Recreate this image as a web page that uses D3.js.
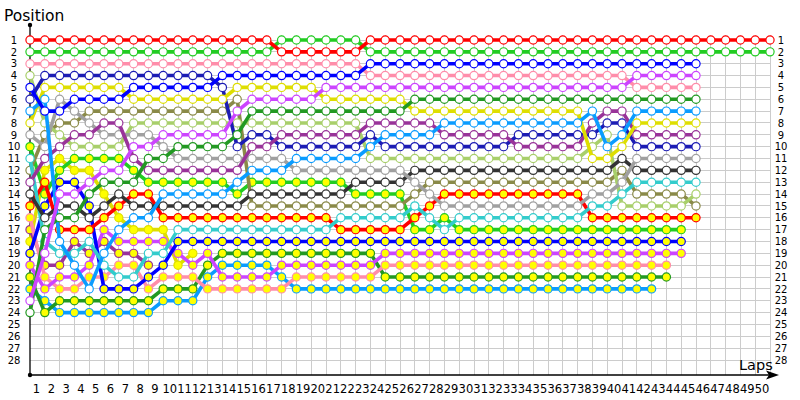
<!DOCTYPE html>
<html><head><meta charset="utf-8">
<script src="https://cdn.jsdelivr.net/npm/d3@7"></script>
<style>
body{margin:0;background:#fff;}
text{font-family:"DejaVu Sans",sans-serif;}
</style></head><body>
<svg id="chart" width="800" height="400"></svg>
<script>
// ---- data ----
const laps = d3.range(0, 51);
const lapLabels = d3.range(1, 51);
const positionLabels = d3.range(1, 29);

// position per lap, starting at lap 0 (grid)
const posRed    = [1,1,1,1,1,1,1,1,1,1, 1,1,1,1,1,1,1,2,2,2, 2,2,2,1,1,1,1,1,1,1, 1,1,1,1,1,1,1,1,1,1, 1,1,1,1,1,1,1,1,1,1, 1];
const posGreen  = [2,2,2,2,2,2,2,2,2,2, 2,2,2,2,2,2,2,1,1,1, 1,1,1,2,2,2,2,2,2,2, 2,2,2,2,2,2,2,2,2,2, 2,2,2,2,2,2,2,2,2,2, 2];
const posBlue   = [5,7,7,6,6,6,6,5,5,5, 5,5,5,4,4,4,4,4,4,4, 4,4,4,3,3,3,3,3,3,3, 3,3,3,3,3,3,3,3,3,3, 3,3,3,3,3,3];
const posViolet = [23,19,14,14,13,12,12,10,10,9, 9,9,9,9,7,6,6,6,6,6, 5,5,5,5,5,5,5,5,5,5, 5,5,5,5,5,5,5,5,5,5, 5,4,4,4,4,4];
const posPink   = [3,3,3,3,3,3,3,3,3,3, 3,3,3,3,3,3,3,3,3,3, 3,3,3,4,4,4,4,4,4,4, 4,4,4,4,4,4,4,4,4,4, 4,5,5,5,5,5];
const posDkGreen= [24,17,16,16,14,13,13,13,11,11, 10,10,10,10,9,7,7,7,7,7, 7,7,7,7,7,7,6,6,6,6, 6,6,6,6,6,6,6,6,6,6, 6,6,6,6,6,6];
const posSky    = [7,6,18,20,22,19,17,16,16,14, 14,14,14,14,13,12,12,12,11,11, 11,11,11,10,9,9,9,9,8,8, 8,8,8,8,8,8,8,8,7,10, 9,7,7,7,7,7];
const posYellow = [8,5,5,5,5,5,5,6,6,6, 6,6,6,6,5,5,5,5,5,5, 6,6,6,6,6,6,7,7,7,7, 7,7,7,7,7,7,7,7,11,11, 10,8,8,8,8,8];
const posPurple = [13,11,10,9,9,8,8,11,12,12, 12,12,12,12,12,10,10,9,9,9, 9,9,9,8,8,8,8,8,9,9, 9,9,9,10,10,10,10,10,8,7, 7,9,9,9,9,9];
const posNavy   = [6,4,4,4,4,4,4,4,4,4, 4,4,4,5,10,9,9,10,10,10, 10,10,10,9,10,10,10,10,10,10, 10,10,10,9,9,9,9,9,9,8, 8,10,10,10,10,10];
const posGray   = [9,10,6,7,8,9,9,9,9,10, 11,11,11,11,11,11,11,11,12,12, 12,12,12,12,12,12,13,14,15,15, 15,15,15,15,15,15,15,15,14,14, 13,11,11,11,11,11];
const posBlack  = [14,16,15,15,16,15,14,15,15,15, 15,15,15,15,15,14,14,14,14,14, 14,14,13,13,13,13,12,12,12,12, 12,12,12,12,12,12,12,12,12,12, 11,12,12,12,12,12];
const posTeal   = [11,18,19,19,18,20,21,21,19,19, 17,17,17,17,17,17,17,17,17,17, 17,16,16,16,16,16,15,16,17,16, 16,16,16,16,16,16,16,16,15,15, 14,13,13,13,13,13];
const posLime   = [4,8,9,10,10,10,10,8,8,8, 8,8,8,8,8,8,8,8,8,8, 8,8,8,11,11,11,11,11,11,11, 11,11,11,11,11,11,11,11,10,9, 15,15,15,15,15,14];
const posOlive  = [12,9,8,8,7,7,7,7,7,7, 7,7,7,7,6,15,15,15,15,15, 15,15,15,15,15,15,14,13,13,13, 13,13,13,13,13,13,13,13,13,13, 12,14,14,14,14,15];
const posRedB   = [15,13,17,17,17,16,15,14,14,16, 16,16,16,16,16,16,16,16,16,16, 16,17,17,17,17,17,16,15,14,14, 14,14,14,14,14,14,14,14,16,16, 16,16,16,16,16,16];
const posGreenB = [10,14,12,11,11,11,11,12,13,13, 13,13,13,13,14,13,13,13,13,13, 13,13,14,14,14,14,17,17,16,17, 17,17,17,17,17,17,17,17,17,17, 17,17,17,17,17];
const posBlueB  = [19,15,13,13,15,22,22,22,21,20, 18,18,18,18,18,18,18,18,18,18, 18,18,18,18,18,18,18,18,18,18, 18,18,18,18,18,18,18,18,18,18, 18,18,18,18,18];
const posVioletB= [20,22,21,21,20,17,18,18,18,18, 19,20,19,21,21,21,21,20,20,20, 20,20,20,20,19,19,19,19,19,19, 19,19,19,19,19,19,19,19,19,19, 19,19,19,19,19];
const posPinkB  = [16,21,22,22,21,21,20,20,22,21, 21,21,22,22,22,22,22,22,21,21, 21,21,21,21,20,20,20,20,20,20, 20,20,20,20,20,20,20,20,20,20, 20,20,20,20];
const posDkGreenB=[21,24,23,23,23,23,23,23,23,22, 22,22,20,19,19,19,19,19,19,19, 19,19,19,19,21,21,21,21,21,21, 21,21,21,21,21,21,21,21,21,21, 21,21,21,21];
const posSkyB   = [22,23,24,24,24,24,24,24,24,23, 23,23,21,20,20,20,20,21,22,22, 22,22,22,22,22,22,22,22,22,22, 22,22,22,22,22,22,22,22,22,22, 22,22,22];
const posPurpleB= [17,20,20,18,19,18,19,19,20];
const posYellowB= [18,12,11,12,12,14,16,17,17,17,20,19];

const seriesNames = ["red","green","blue","violet","pink","dkgreen","sky","yellow","purple","navy",
  "gray","black","teal","lime","olive","redB","greenB","blueB","violetB","pinkB","dkgreenB","skyB","purpleB","yellowB"];
const seriesValues = [posRed,posGreen,posBlue,posViolet,posPink,posDkGreen,posSky,posYellow,posPurple,posNavy,
  posGray,posBlack,posTeal,posLime,posOlive,posRedB,posGreenB,posBlueB,posVioletB,posPinkB,posDkGreenB,posSkyB,posPurpleB,posYellowB];

// ---- styles ----
const colorOf = {
  red:"#ff0000", green:"#22cc22", blue:"#0000ff", violet:"#cc44ff", pink:"#ff8daa",
  dkgreen:"#229922", sky:"#0a9cff", yellow:"#dede00", purple:"#993399", navy:"#1c1cb4",
  gray:"#a0a0a0", black:"#333333", teal:"#33cccc", lime:"#a8cf6a", olive:"#8a8a48",
  redB:"#ff0000", greenB:"#22cc22", blueB:"#0000ff", violetB:"#cc44ff", pinkB:"#ff8daa",
  dkgreenB:"#229922", skyB:"#0a9cff", purpleB:"#993399", yellowB:"#dede00"
};
const yellowFilled = new Set(["redB","greenB","blueB","violetB","pinkB","dkgreenB","skyB","purpleB","yellowB"]);

// ---- chart ----
const svg = d3.select("#chart");
const x = d3.scaleLinear().domain([0, 50]).range([30, 770]);
const y = d3.scaleLinear().domain([1, 28]).range([40, 360]);
const xLabel = d3.scaleLinear().domain([1, 50]).range([36, 761.5]);

const grid = svg.append("g").attr("stroke", "#cccccc").attr("stroke-width", 1).attr("shape-rendering","crispEdges");
grid.selectAll("line.v").data(laps.slice(1)).join("line").attr("class","v")
  .attr("x1", d => x(d)).attr("x2", d => x(d)).attr("y1", y(0.55)).attr("y2", 375);
grid.selectAll("line.h").data(positionLabels).join("line").attr("class","h")
  .attr("x1", x(0)).attr("x2", x(50)).attr("y1", d => y(d)).attr("y2", d => y(d));

// axes lines
const axisG = svg.append("g");
axisG.append("line").attr("x1",30).attr("x2",30).attr("y1",25).attr("y2",375).attr("stroke","#000").attr("stroke-width",1.3);
axisG.append("line").attr("x1",30).attr("x2",772).attr("y1",375).attr("y2",375).attr("stroke","#000").attr("stroke-width",1.3);
axisG.append("path").attr("d","M779,375 L766,370.5 L769,375 L766,379.5 Z").attr("fill","#000");
axisG.append("circle").attr("cx",30).attr("cy",25).attr("r",2.2).attr("fill","#000");
axisG.append("circle").attr("cx",30).attr("cy",375).attr("r",2.2).attr("fill","#000");

// tick labels via d3 axes
const gx = svg.append("g").attr("transform","translate(0,375)")
  .call(d3.axisBottom(xLabel).tickValues(lapLabels).tickSize(0).tickPadding(10).tickFormat(d3.format("d")));
gx.select(".domain").remove();
gx.selectAll("text").attr("font-size","11.5px").attr("font-family","DejaVu Sans").attr("fill","#000");

const gl = svg.append("g").attr("transform","translate(14,0)")
  .call(d3.axisLeft(y).tickValues(positionLabels).tickSize(0).tickPadding(0).tickFormat(d3.format("d")));
gl.select(".domain").remove();
gl.selectAll("text").attr("text-anchor","middle").attr("x",0).attr("font-size","10px").attr("font-family","DejaVu Sans").attr("fill","#000");

const gr = svg.append("g").attr("transform","translate(781,0)")
  .call(d3.axisRight(y).tickValues(positionLabels).tickSize(0).tickPadding(0).tickFormat(d3.format("d")));
gr.select(".domain").remove();
gr.selectAll("text").attr("text-anchor","middle").attr("x",0).attr("font-size","10px").attr("font-family","DejaVu Sans").attr("fill","#000");

svg.append("text").attr("x",4).attr("y",21).attr("font-family","Liberation Sans").attr("font-size","15.5px").attr("fill","#000").text("Position");
svg.append("text").attr("x",739).attr("y",370).attr("font-family","Liberation Sans").attr("font-size","14.5px").attr("fill","#000").text("Laps");

// series
const line = d3.line().x((d, i) => x(laps[i])).y(d => y(d));
const order = d3.range(seriesNames.length).reverse();
const plot = svg.append("g");
order.forEach(k => {
  const name = seriesNames[k];
  const vals = seriesValues[k];
  const g = plot.append("g");
  g.append("path").datum(vals).attr("d", line)
    .attr("fill","none").attr("stroke", colorOf[name]).attr("stroke-width",3.6)
    .attr("stroke-linejoin","round");
  g.selectAll("circle").data(vals).join("circle")
    .attr("cx", (d, i) => x(laps[i])).attr("cy", d => y(d)).attr("r", 4.1)
    .attr("fill", yellowFilled.has(name) ? "#ffff00" : "#ffffff")
    .attr("stroke", colorOf[name]).attr("stroke-width", 1.2);
});
</script>
</body></html>
